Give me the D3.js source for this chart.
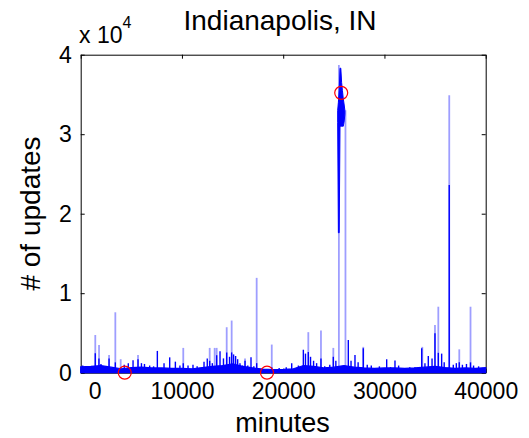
<!DOCTYPE html>
<html>
<head>
<meta charset="utf-8">
<script src="https://cdn.jsdelivr.net/npm/d3@7"></script>
<style>
  body { margin: 0; background: #fff; }
  text { font-family: "Liberation Sans", Arial, Helvetica, sans-serif; fill: #000; }
</style>
</head>
<body>
<div id="chart"></div>
<script>
// chart texts and ticks
const title = "Indianapolis, IN";
const xLabel = "minutes";
const yLabel = "# of updates";
const xTicks = [0, 10000, 20000, 30000, 40000];
const yTicks = [0, 10000, 20000, 30000, 40000];

// low background activity (every 1000 minutes)
const floorMinutes = [0, 1000, 2000, 3000, 4000, 5000, 6000, 7000, 8000, 9000, 10000,
  11000, 12000, 13000, 14000, 15000, 16000, 17000, 18000, 19000, 20000,
  21000, 22000, 23000, 24000, 25000, 26000, 27000, 28000, 29000, 30000,
  31000, 32000, 33000, 34000, 35000, 36000, 37000, 38000, 39000, 40000];
const floorValues = [750, 800, 900, 700, 500, 650, 700, 600, 600, 550, 550,
  500, 650, 800, 900, 1100, 800, 600, 450, 400, 430,
  500, 900, 800, 600, 700, 900, 700, 600, 550, 600,
  600, 550, 600, 700, 800, 650, 550, 600, 550, 650];

// small solid spikes
const darkMinutes = [200, 1440, 1800, 2000, 2800, 3420, 4300, 4700, 5170, 5660, 6000, 6300, 6810, 7200,
  7570, 8230, 8790, 9350, 9800, 10130, 10600, 11090, 11500, 12180, 12500, 12740, 13000, 13430,
  13760, 14100, 14420, 14700, 14910, 15100, 15300, 15500, 15730, 16000, 16230, 16500, 16820,
  17100, 17380, 18000, 18870, 19600, 20300, 20840, 21500, 21990, 22200, 22480, 22700, 23000,
  23300, 23730, 24100, 24600, 24950, 25200, 26430, 26700, 27090, 27400, 27910, 28300, 28700,
  29500, 30220, 30600, 31040, 31400, 32000, 32500, 33000, 33680, 34000, 34330, 34700, 34990,
  35320, 35650, 35900, 36400, 36800, 37100, 37390, 37700, 38100, 38500, 38800, 39300, 39700];
const darkValues = [900, 2440, 1800, 1100, 1800, 1300, 1000, 1200, 1560, 1700, 1200, 1100, 900, 800,
  2740, 1180, 1930, 1390, 900, 1200, 900, 1000, 800, 1390, 1800, 1500, 1200, 2200,
  2700, 1800, 2550, 2000, 2550, 2300, 2100, 1700, 1180, 900, 1500, 900, 1930,
  800, 1200, 500, 700, 600, 700, 1180, 900, 2890, 2400, 2600, 2000, 1500,
  1200, 1800, 800, 1000, 2000, 1500, 4110, 1500, 2230, 1300, 3070, 1000, 900,
  800, 1690, 700, 1550, 900, 600, 700, 700, 3070, 1200, 2100, 1800, 4960,
  2500, 2400, 1300, 23600, 1000, 1200, 1300, 1000, 1100, 1300, 900, 800, 600];

// isolated tall spikes (drawn faint)
const lightMinutes = [1440, 1810, 2800, 3420, 3950, 5660, 10130, 12740, 13230, 13430, 14420, 14910,
  16230, 17380, 18870, 22480, 23730, 24950, 25500, 26150, 27910, 33740, 34990, 35320, 36400,
  37390, 38500];
const lightValues = [4740, 3480, 2230, 7600, 1700, 2230, 3120, 3120, 3120, 3120, 5720, 6560,
  1800, 11930, 3540, 5100, 5300, 3120, 38700, 33000, 3250, 3250, 6000, 8300, 34900,
  2940, 8300];

// the burst around minute 25500
const burstMinutes = [25380, 25450, 25530, 25610, 25690, 25770, 25850, 25930, 26010, 26090];
const burstLow = [31500, 17600, 17600, 31000, 31000, 31000, 31000, 31000, 31500, 32500];
const burstHigh = [33000, 34000, 35500, 38300, 38300, 36500, 35500, 34500, 33800, 33000];

// marked samples
const markMinutes = [4350, 18400, 25730];
const markValues = [0, 0, 35200];

const width = 529, height = 438;
const plotLeft = 80.7, plotRight = 485.7, plotTop = 54.7, plotBottom = 372.7;
const blue = "#0000ff";

const svg = d3.select("#chart")
  .append("svg")
  .attr("width", width)
  .attr("height", height);

const x = d3.scaleLinear().domain([0, 40000]).range([plotLeft, plotRight]);
const y = d3.scaleLinear().domain([0, 40000]).range([plotBottom, plotTop]);

// axes (box with inward ticks)
const styleAxis = g => {
  g.select(".domain").attr("stroke", "#000").attr("stroke-width", 1);
  g.selectAll(".tick line").attr("stroke", "#000");
  g.selectAll("text").attr("font-size", 23).attr("font-family", null);
};

svg.append("g")
  .attr("transform", `translate(0,${plotBottom})`)
  .call(d3.axisBottom(x).tickValues(xTicks).tickSizeInner(-4).tickSizeOuter(0).tickPadding(10).tickFormat(d3.format("d")))
  .call(styleAxis)
  .call(g => g.selectAll(".tick").filter(d => d === 0).select("text").attr("dx", 14));

svg.append("g")
  .attr("transform", `translate(0,${plotTop})`)
  .call(d3.axisTop(x).tickValues(xTicks).tickSizeInner(-4).tickSizeOuter(0).tickFormat(""))
  .call(styleAxis);

svg.append("g")
  .attr("transform", `translate(${plotLeft},0)`)
  .call(d3.axisLeft(y).tickValues(yTicks).tickSizeInner(-4).tickSizeOuter(0).tickPadding(9).tickFormat(d => d / 10000))
  .call(styleAxis);

svg.append("g")
  .attr("transform", `translate(${plotRight},0)`)
  .call(d3.axisRight(y).tickValues(yTicks).tickSizeInner(-4).tickSizeOuter(0).tickFormat(""))
  .call(styleAxis);

// data
const floor = floorMinutes.map((m, i) => ({ m, v: floorValues[i] }));
svg.append("path")
  .datum(floor)
  .attr("d", d3.area().x(d => x(d.m)).y0(y(0)).y1(d => y(d.v)))
  .attr("fill", blue)
  .attr("stroke", blue)
  .attr("stroke-width", 1.2);

svg.selectAll(".light")
  .data(lightMinutes.map((m, i) => ({ m, v: lightValues[i] })))
  .enter()
  .append("line")
  .attr("class", "light")
  .attr("x1", d => x(d.m)).attr("x2", d => x(d.m))
  .attr("y1", y(0)).attr("y2", d => y(d.v))
  .attr("stroke", blue)
  .attr("stroke-opacity", 0.38)
  .attr("stroke-width", 1.8);

svg.selectAll(".dark")
  .data(darkMinutes.map((m, i) => ({ m, v: darkValues[i] })))
  .enter()
  .append("line")
  .attr("class", "dark")
  .attr("x1", d => x(d.m)).attr("x2", d => x(d.m))
  .attr("y1", y(0)).attr("y2", d => y(d.v))
  .attr("stroke", blue)
  .attr("stroke-width", 1.4);

const burst = burstMinutes.map((m, i) => ({ m, lo: burstLow[i], hi: burstHigh[i] }));
svg.append("path")
  .datum(burst)
  .attr("d", d3.area().x(d => x(d.m)).y0(d => y(d.lo)).y1(d => y(d.hi)))
  .attr("fill", blue)
  .attr("stroke", blue)
  .attr("stroke-width", 1);

svg.selectAll(".mark")
  .data(markMinutes.map((m, i) => ({ m, v: markValues[i] })))
  .enter()
  .append("circle")
  .attr("class", "mark")
  .attr("cx", d => x(d.m))
  .attr("cy", d => y(d.v))
  .attr("r", 6.5)
  .attr("fill", "none")
  .attr("stroke", "#ff0000")
  .attr("stroke-width", 1.2);

// texts
svg.append("text")
  .attr("x", 280).attr("y", 29.5)
  .attr("text-anchor", "middle")
  .attr("font-size", 28)
  .text(title);

const expo = svg.append("text")
  .attr("x", 79).attr("y", 43)
  .attr("font-size", 23);
expo.append("tspan").text("x 10");
expo.append("tspan").attr("font-size", 16).attr("dy", -15).text("4");

svg.append("text")
  .attr("x", 282.5).attr("y", 432)
  .attr("text-anchor", "middle")
  .attr("font-size", 27)
  .text(xLabel);

svg.append("text")
  .attr("transform", "translate(40,213.5) rotate(-90)")
  .attr("text-anchor", "middle")
  .attr("font-size", 28)
  .text(yLabel);
</script>
</body>
</html>
